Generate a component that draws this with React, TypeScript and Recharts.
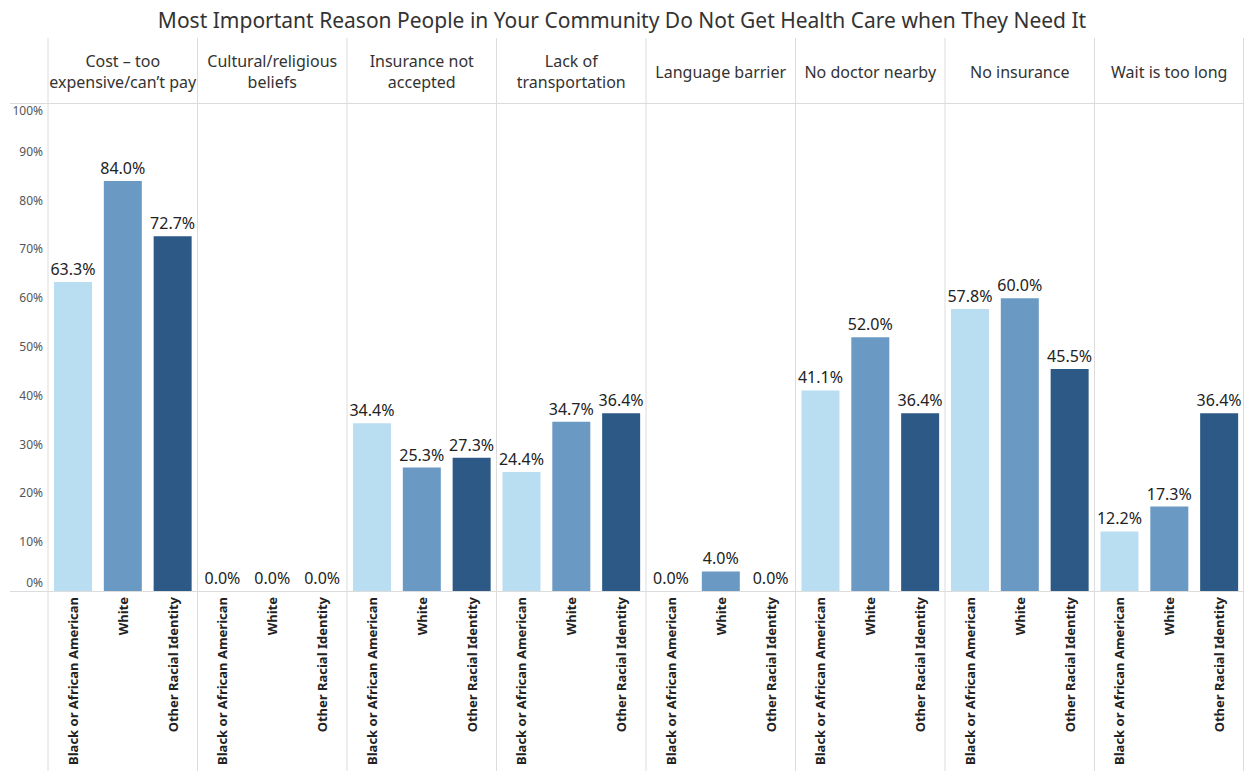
import { Bar, BarChart, Cell, LabelList, XAxis, YAxis } from "recharts";

const reasonLines: string[][] = [
  ["Cost – too", "expensive/can’t pay"],
  ["Cultural/religious", "beliefs"],
  ["Insurance not", "accepted"],
  ["Lack of", "transportation"],
  ["Language barrier"],
  ["No doctor nearby"],
  ["No insurance"],
  ["Wait is too long"],
];
const races = ["Black or African American", "White", "Other Racial Identity"];
const blackValues = [63.3, 0, 34.4, 24.4, 0, 41.1, 57.8, 12.2];
const whiteValues = [84.0, 0, 25.3, 34.7, 4.0, 52.0, 60.0, 17.3];
const otherValues = [72.7, 0, 27.3, 36.4, 0, 36.4, 45.5, 36.4];
const raceColors = ["#b9ddf1", "#6a9ac4", "#2c5985"];
const yTicks = [0, 10, 20, 30, 40, 50, 60, 70, 80, 90, 100];

const seriesByRace = [blackValues, whiteValues, otherValues];
const data = reasonLines.flatMap((lines, r) =>
  races.map((race, i) => ({
    reason: lines.join(" "),
    race,
    raceIndex: i,
    value: seriesByRace[i][r],
  }))
);

const W = 1244;
const H = 771;
const HEADER_TOP = 38;
const PLOT_TOP = 103;
const PLOT_BOTTOM = 591;
const GRID = "#dcdcdc";
const FONT = "'Noto Sans', sans-serif";

function YTick(props: any) {
  const { x, y, payload } = props;
  let dy = 4;
  if (payload.value === 0) dy = -4;
  if (payload.value === 100) dy = 12;
  return (
    <text x={x} y={y + dy} textAnchor="end" fontSize={12} fill="#555" fontFamily={FONT}>
      {payload.value}%
    </text>
  );
}

function TopTick(props: any) {
  const { x, payload, index } = props;
  const half = payload.offset ?? (W - 48) / 48;
  const els: any[] = [];
  if (index % 3 === 0) {
    els.push(<line key="s" x1={x - half} x2={x - half} y1={HEADER_TOP} y2={H} stroke={GRID} strokeWidth={1} />);
  }
  if (index === data.length - 1) {
    els.push(<line key="e" x1={x + half - 0.5} x2={x + half - 0.5} y1={HEADER_TOP} y2={H} stroke={GRID} strokeWidth={1} />);
  }
  if (index % 3 === 1) {
    const lines = reasonLines[Math.floor(index / 3)];
    const mid = (HEADER_TOP + PLOT_TOP) / 2 + 1;
    const lh = 21;
    const start = mid - ((lines.length - 1) * lh) / 2;
    lines.forEach((t, k) => {
      els.push(
        <text key={k} x={x} y={start + k * lh} textAnchor="middle" dominantBaseline="central" fontSize={16} fill="#333" fontFamily={FONT}>
          {t}
        </text>
      );
    });
  }
  return <g>{els}</g>;
}

function BottomTick(props: any) {
  const { x, payload } = props;
  const y = PLOT_BOTTOM + 6;
  return (
    <text
      x={x}
      y={y}
      transform={`rotate(-90, ${x}, ${y})`}
      textAnchor="end"
      dominantBaseline="central"
      fontSize={13}
      fontWeight="bold"
      fill="#222"
      fontFamily={FONT}
    >
      {payload.value}
    </text>
  );
}

export default function App() {
  return (
    <div style={{ position: "absolute", left: 0, top: 0, width: W, height: H, background: "#fff", fontFamily: FONT }}>
      <div style={{ position: "absolute", left: 0, top: 6, width: W, textAlign: "center", fontSize: 21, color: "#333" }}>
        Most Important Reason People in Your Community Do Not Get Health Care when They Need It
      </div>
      <div style={{ position: "absolute", left: 10, top: PLOT_TOP, width: W - 10, height: 1, background: GRID }} />
      <div style={{ position: "absolute", left: 10, top: PLOT_BOTTOM, width: W - 10, height: 1, background: GRID }} />
      <div style={{ position: "absolute", left: 0, top: 0 }}>
        <BarChart
          width={W}
          height={H}
          data={data}
          margin={{ top: HEADER_TOP, right: 0, bottom: 0, left: 0 }}
          barCategoryGap="12%"
        >
          <XAxis xAxisId="top" orientation="top" dataKey="reason" height={PLOT_TOP - HEADER_TOP} axisLine={false} tickLine={false} tick={<TopTick />} interval={0} />
          <XAxis dataKey="race" height={H - PLOT_BOTTOM} axisLine={false} tickLine={false} tick={<BottomTick />} interval={0} />
          <YAxis width={48} domain={[0, 100]} ticks={yTicks} axisLine={false} tickLine={false} tickSize={0} tickMargin={5} tick={<YTick />} interval={0} />
          <Bar
            dataKey="value"
            isAnimationActive={false}
            minPointSize={(v: any) => (Number(v) === 0 ? 0.01 : 0)}
          >
            {data.map((d, i) => (
              <Cell key={i} fill={raceColors[d.raceIndex]} />
            ))}
            <LabelList
              dataKey="value"
              position="top"
              offset={7}
              fontSize={16}
              fill="#222"
              fontFamily={FONT}
              formatter={(v: any) => `${Number(v).toFixed(1)}%`}
            />
          </Bar>
        </BarChart>
      </div>
    </div>
  );
}
